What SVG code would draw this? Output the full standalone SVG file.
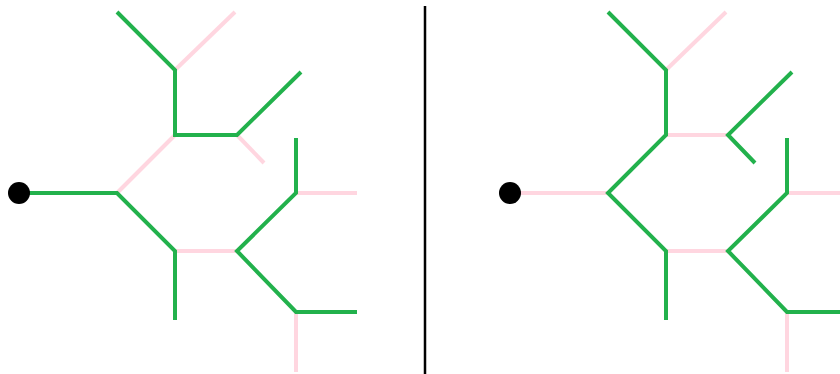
<svg xmlns="http://www.w3.org/2000/svg" width="840" height="374" viewBox="0 0 840 374">
<style>
.g{stroke:#22b14c;stroke-width:4;fill:none;stroke-linecap:butt}
.p{stroke:#ffd6e0;stroke-width:4;fill:none;stroke-linecap:butt}
.dot{fill:#000}
.div{stroke:#000;stroke-width:2.5}
</style>
<rect width="840" height="374" fill="#fff"/>
<g id="divider"><line class="div" x1="425" y1="6" x2="425" y2="374"/></g>
<g id="left-connectors">
<line class="p" x1="117" y1="193" x2="175" y2="135"/>
<line class="p" x1="175" y1="70" x2="235" y2="12"/>
<line class="p" x1="237" y1="135" x2="264" y2="163"/>
<line class="p" x1="175" y1="251" x2="237" y2="251"/>
<line class="p" x1="296" y1="193" x2="357" y2="193"/>
<line class="p" x1="296" y1="312" x2="296" y2="372"/>
<polyline class="g" points="19,193 117,193 175,251 175,320"/>
<polyline class="g" points="117,12 175,70 175,135 237,135 301,72"/>
<polyline class="g" points="296,138 296,193 237,251 296,312 357,312"/>
</g>
<g id="left-root"><circle class="dot" cx="19" cy="193" r="11"/></g>
<g id="right-connectors">
<line class="p" x1="510" y1="193" x2="608" y2="193"/>
<line class="p" x1="666" y1="135" x2="728" y2="135"/>
<line class="p" x1="666" y1="70" x2="726" y2="12"/>
<line class="p" x1="666" y1="251" x2="728" y2="251"/>
<line class="p" x1="787" y1="193" x2="848" y2="193"/>
<line class="p" x1="787" y1="312" x2="787" y2="372"/>
<polyline class="g" points="666,320 666,251 608,193 666,135 666,70 608,12"/>
<polyline class="g" points="792,72 728,135 755,163"/>
<polyline class="g" points="787,138 787,193 728,251 787,312 848,312"/>
</g>
<g id="right-root"><circle class="dot" cx="510" cy="193" r="11"/></g>
</svg>
